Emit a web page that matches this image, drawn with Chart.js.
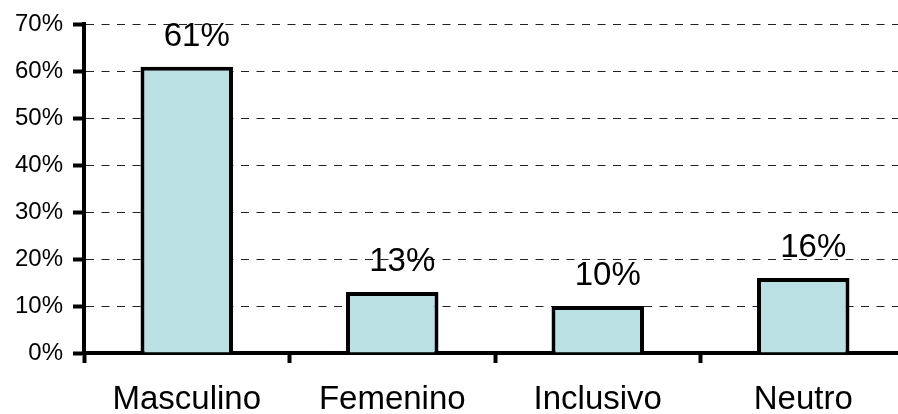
<!DOCTYPE html>
<html>
<head>
<meta charset="utf-8">
<script src="https://cdn.jsdelivr.net/npm/chart.js@4"></script>
<style>
  html, body { margin: 0; padding: 0; background: #fff; overflow: hidden; }
  #wrap { width: 906px; height: 414px; position: relative; }
</style>
</head>
<body>
<div id="wrap"><canvas id="genderChart"></canvas></div>
<script>
const categories = ["Masculino", "Femenino", "Inclusivo", "Neutro"];
const percentages = [61, 13, 10, 16];
const yTicks = [0, 10, 20, 30, 40, 50, 60, 70];

const barLabels = {
    id: "barLabels",
    afterDatasetsDraw(chart) {
        const ctx = chart.ctx;
        const meta = chart.getDatasetMeta(0);
        ctx.save();
        ctx.font = "33px 'Liberation Sans', Arial, sans-serif";
        ctx.fillStyle = "#000";
        ctx.textAlign = "center";
        ctx.textBaseline = "alphabetic";
        meta.data.forEach((bar, i) => {
            // labels sit a little right of the bar centre in the original
            ctx.fillText(percentages[i] + "%", bar.x + 10, bar.y - 21);
        });
        ctx.restore();
    },
};

new Chart(document.getElementById("genderChart"), {
    type: "bar",
    data: {
        labels: categories,
        datasets: [{
            data: percentages,
            backgroundColor: "#bae0e3",
            borderColor: "#000",
            borderWidth: 4,
            categoryPercentage: 1,
            barPercentage: 0.45,
        }],
    },
    options: {
        responsive: true,
        maintainAspectRatio: false,
        animation: false,
        layout: { padding: { top: 19, right: 0, left: 0, bottom: 0 } },
        plugins: { legend: { display: false }, tooltip: { enabled: false } },
        scales: {
            x: {
                offset: true,
                afterFit: (s) => { s.height = 61; },
                grid: {
                    display: true,
                    drawOnChartArea: false,
                    offset: true,
                    tickLength: 10,
                    tickWidth: 4,
                    tickColor: "#000",
                },
                border: { color: "#000", width: 4 },
                ticks: {
                    color: "#000",
                    padding: 17,
                    font: { family: "'Liberation Sans', Arial, sans-serif", size: 33 },
                },
            },
            y: {
                min: 0,
                max: 70,
                afterFit: (s) => { s.width = 84; },
                afterBuildTicks: (s) => { s.ticks = yTicks.map((v) => ({ value: v })); },
                grid: {
                    color: "#222",
                    lineWidth: 1,
                    tickLength: 11,
                    tickWidth: 4,
                    tickColor: "#000",
                    tickBorderDash: [],
                },
                border: { color: "#000", width: 4, dash: [8, 7.5] },
                ticks: {
                    color: "#000",
                    padding: 10,
                    font: { family: "'Liberation Sans', Arial, sans-serif", size: 24 },
                    callback: (v) => v + "%",
                },
            },
        },
    },
    plugins: [barLabels],
});
</script>
</body>
</html>
